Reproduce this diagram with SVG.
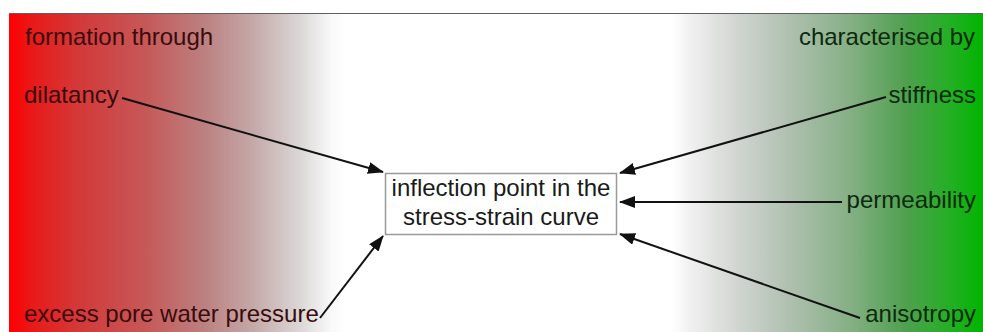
<svg xmlns="http://www.w3.org/2000/svg" width="983" height="332" viewBox="0 0 983 332">
  <defs>
    <linearGradient id="bg" gradientUnits="userSpaceOnUse" x1="9" y1="0" x2="983" y2="0">
      <stop offset="0" stop-color="#ff0000"/>
      <stop offset="0.025" stop-color="#e81a1a"/>
      <stop offset="0.07" stop-color="#d43838"/>
      <stop offset="0.14" stop-color="#c65858"/>
      <stop offset="0.2" stop-color="#bc8080"/>
      <stop offset="0.25" stop-color="#c4a8a8"/>
      <stop offset="0.3" stop-color="#dcd8d8"/>
      <stop offset="0.33" stop-color="#f8f8f8"/>
      <stop offset="0.345" stop-color="#ffffff"/>
      <stop offset="0.68" stop-color="#ffffff"/>
      <stop offset="0.70" stop-color="#f0f0f0"/>
      <stop offset="0.75" stop-color="#d0d4d0"/>
      <stop offset="0.8" stop-color="#b0c0b0"/>
      <stop offset="0.86" stop-color="#88b088"/>
      <stop offset="0.92" stop-color="#50a050"/>
      <stop offset="0.97" stop-color="#20b020"/>
      <stop offset="1" stop-color="#00b400"/>
    </linearGradient>
    <marker id="arrow" viewBox="0 0 16 12" refX="15" refY="6" markerWidth="16" markerHeight="12" markerUnits="userSpaceOnUse" orient="auto">
      <path d="M0,0 L16,6 L0,12 Z" fill="#111"/>
    </marker>
    <style>
      .lbl { font-family: "Liberation Sans", Arial, sans-serif; font-size: 24px; }
      .red { fill: #3a0c0c; }
      .grn { fill: #0c2a0c; }
      .conn { stroke: #111; stroke-width: 2; fill: none; marker-end: url(#arrow); }
      .box { fill: #ffffff; stroke: #9a9a9a; stroke-width: 1.5; }
      .ctr { fill: #1a1a1a; text-anchor: middle; }
    </style>
  </defs>

  <!-- background band -->
  <rect x="0" y="0" width="983" height="332" fill="#ffffff"/>
  <rect x="9" y="13" width="974" height="319" fill="url(#bg)"/>
  <line x1="9" y1="13.5" x2="983" y2="13.5" stroke="#606060" stroke-width="1.2"/>

  <!-- headings -->
  <text class="lbl red" x="25" y="45">formation through</text>
  <text class="lbl grn" x="975" y="45" text-anchor="end">characterised by</text>

  <g id="connectors">
    <line class="conn" x1="122" y1="98" x2="383" y2="172"/>
    <line class="conn" x1="320" y1="318" x2="383" y2="236"/>
    <line class="conn" x1="886" y1="97" x2="620" y2="173"/>
    <line class="conn" x1="842" y1="202" x2="620" y2="202"/>
    <line class="conn" x1="860" y1="318" x2="620" y2="234"/>
  </g>

  <g id="inflection-point">
    <rect class="box" x="385.5" y="173.5" width="231" height="61"/>
    <text class="lbl ctr" x="501" y="196">inflection point in the</text>
    <text class="lbl ctr" x="501" y="225">stress-strain curve</text>
  </g>

  <g id="dilatancy">
    <text class="lbl red" x="24" y="103">dilatancy</text>
  </g>
  <g id="excess-pore-water-pressure">
    <text class="lbl red" x="24" y="322">excess pore water pressure</text>
  </g>
  <g id="stiffness">
    <text class="lbl grn" x="976" y="103" text-anchor="end">stiffness</text>
  </g>
  <g id="permeability">
    <text class="lbl grn" x="976" y="208" text-anchor="end">permeability</text>
  </g>
  <g id="anisotropy">
    <text class="lbl grn" x="976" y="322" text-anchor="end">anisotropy</text>
  </g>
</svg>
